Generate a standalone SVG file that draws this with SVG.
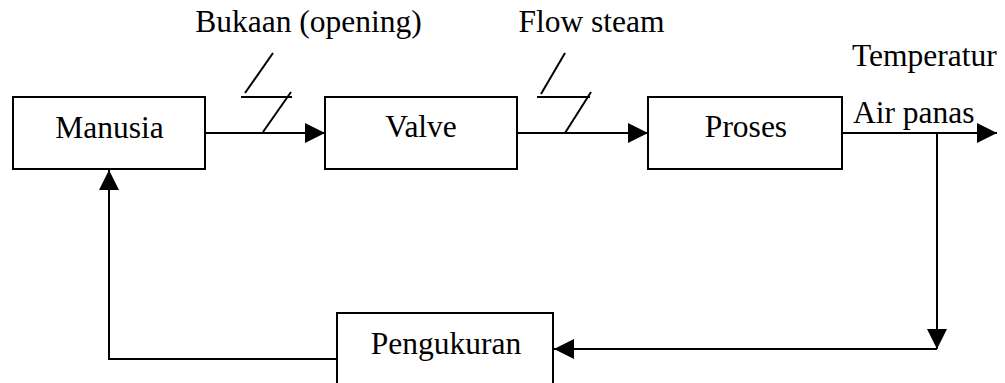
<svg xmlns="http://www.w3.org/2000/svg" width="1005" height="383" viewBox="0 0 1005 383">
  <defs>
    <marker id="arrow" viewBox="0 0 20 20" refX="20" refY="10" markerWidth="20" markerHeight="20" markerUnits="userSpaceOnUse" orient="auto">
      <path d="M0,0 L20,10 L0,20 Z" fill="#000"/>
    </marker>
    <style>
      .box { fill: #fff; stroke: #000; stroke-width: 2; }
      .line { fill: none; stroke: #000; stroke-width: 2; }
      .lbl { font-family: 'Liberation Serif', 'Times New Roman', serif; font-size: 31.5px; fill: #000; }
      .mid { text-anchor: middle; }
    </style>
  </defs>
  <rect width="1005" height="383" fill="#fff"/>

  <!-- connectors -->
  <g id="connectors">
    <line class="line" x1="205" y1="133" x2="325" y2="133" marker-end="url(#arrow)"/>
    <line class="line" x1="517" y1="133" x2="648" y2="133" marker-end="url(#arrow)"/>
    <line class="line" x1="842" y1="133" x2="997" y2="133" marker-end="url(#arrow)"/>
    <line class="line" x1="937" y1="133" x2="937" y2="349" marker-end="url(#arrow)"/>
    <line class="line" x1="937" y1="349" x2="554" y2="349" marker-end="url(#arrow)"/>
    <polyline class="line" points="337,359 109,359 109,170" marker-end="url(#arrow)"/>
    <!-- signal break symbols -->
    <polyline class="line" points="273,53 245,93" />
    <polyline class="line" points="241,97 292,97" />
    <polyline class="line" points="291,92 263,132" />
    <polyline class="line" points="565,53 541,94" />
    <polyline class="line" points="537,97 590,97" />
    <polyline class="line" points="591,92 565,133" />
  </g>

  <!-- labels on signals -->
  <text class="lbl mid" x="308.5" y="32">Bukaan (opening)</text>
  <text class="lbl mid" x="591.5" y="32">Flow steam</text>
  <text class="lbl" x="852" y="66">Temperatur</text>
  <text class="lbl" x="853" y="123">Air panas</text>

  <g id="manusia">
    <rect class="box" x="13" y="97" width="192" height="72"/>
    <text class="lbl mid" x="109.5" y="137.5">Manusia</text>
  </g>
  <g id="valve">
    <rect class="box" x="325" y="97" width="192" height="72"/>
    <text class="lbl mid" x="421" y="137">Valve</text>
  </g>
  <g id="proses">
    <rect class="box" x="648" y="97" width="194" height="72"/>
    <text class="lbl mid" x="746" y="137">Proses</text>
  </g>
  <g id="pengukuran">
    <rect class="box" x="337" y="313" width="216" height="80"/>
    <text class="lbl mid" x="446" y="354">Pengukuran</text>
  </g>
</svg>
